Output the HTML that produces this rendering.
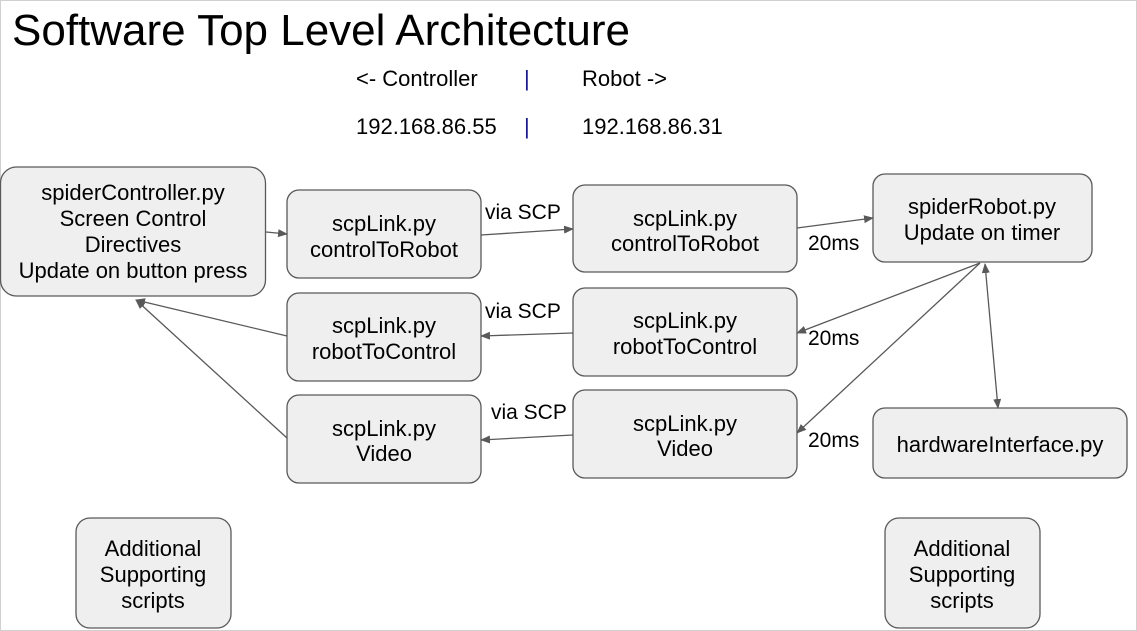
<!DOCTYPE html>
<html><head><meta charset="utf-8"><style>
html,body{margin:0;padding:0;background:#fff}
svg{display:block}
text{font-family:"Liberation Sans",Arial,sans-serif;fill:#000}
</style></head><body>
<svg width="1137" height="631" viewBox="0 0 1137 631" xmlns="http://www.w3.org/2000/svg">
<defs><marker id="a" markerWidth="10" markerHeight="10" refX="9" refY="5" orient="auto" markerUnits="userSpaceOnUse"><path d="M0,1 L10,5 L0,9 z" fill="#595959"/></marker>
<marker id="b" markerWidth="10" markerHeight="10" refX="1" refY="5" orient="auto" markerUnits="userSpaceOnUse"><path d="M10,1 L0,5 L10,9 z" fill="#595959"/></marker></defs>
<rect x="0.5" y="0.5" width="1136" height="630" fill="#fff" stroke="#d0d0d0"/>
<text x="12" y="45" font-size="44">Software Top Level Architecture</text>
<g font-size="22">
<text x="356" y="86">&lt;- Controller</text><text x="524" y="86" style="fill:#1a1a8c">|</text><text x="582" y="86">Robot -&gt;</text>
<text x="356" y="134">192.168.86.55</text><text x="524" y="134" style="fill:#1a1a8c">|</text><text x="582" y="134">192.168.86.31</text>
</g>
<g fill="#efefef" stroke="#595959" stroke-width="1.3">
<rect x="0.5" y="167" width="265" height="129" rx="16"/>
<rect x="287" y="190" width="194" height="88" rx="12"/>
<rect x="573" y="185" width="224" height="87" rx="12"/>
<rect x="873" y="174" width="219" height="88" rx="12"/>
<rect x="287" y="293" width="194" height="88" rx="12"/>
<rect x="573" y="288" width="224" height="88" rx="12"/>
<rect x="287" y="395" width="194" height="88" rx="12"/>
<rect x="573" y="390" width="224" height="88" rx="12"/>
<rect x="873" y="408" width="254" height="70" rx="12"/>
<rect x="76" y="518" width="155" height="110" rx="14"/>
<rect x="885" y="518" width="155" height="110" rx="14"/>
</g>
<g font-size="22" text-anchor="middle">
<text x="133" y="200">spiderController.py</text><text x="133" y="226">Screen Control</text><text x="133" y="252">Directives</text><text x="133" y="278">Update on button press</text>
<text x="384" y="231">scpLink.py</text><text x="384" y="257">controlToRobot</text>
<text x="685" y="226">scpLink.py</text><text x="685" y="251">controlToRobot</text>
<text x="982" y="214">spiderRobot.py</text><text x="982" y="240">Update on timer</text>
<text x="384" y="333">scpLink.py</text><text x="384" y="359">robotToControl</text>
<text x="685" y="328">scpLink.py</text><text x="685" y="354">robotToControl</text>
<text x="384" y="436">scpLink.py</text><text x="384" y="461">Video</text>
<text x="685" y="431">scpLink.py</text><text x="685" y="456">Video</text>
<text x="1000" y="452">hardwareInterface.py</text>
<text x="153" y="556">Additional</text><text x="153" y="582">Supporting</text><text x="153" y="608">scripts</text>
<text x="962" y="556">Additional</text><text x="962" y="582">Supporting</text><text x="962" y="608">scripts</text>
</g>
<g font-size="21">
<text x="485" y="219">via SCP</text><text x="808" y="250">20ms</text>
<text x="485" y="318">via SCP</text><text x="808" y="345">20ms</text>
<text x="491" y="419">via SCP</text><text x="808" y="447">20ms</text>
</g>
<g stroke="#595959" stroke-width="1.3" fill="none">
<line x1="266" y1="232" x2="287" y2="234" marker-end="url(#a)"/>
<line x1="481" y1="235" x2="573" y2="229" marker-end="url(#a)"/>
<line x1="797" y1="228" x2="873" y2="218" marker-end="url(#a)"/>
<line x1="573" y1="333" x2="481" y2="336" marker-end="url(#a)"/>
<line x1="980" y1="263" x2="797" y2="333" marker-end="url(#a)"/>
<line x1="980" y1="263" x2="797" y2="433" marker-end="url(#a)"/>
<line x1="985" y1="264" x2="998" y2="408" marker-start="url(#b)" marker-end="url(#a)"/>
<line x1="573" y1="435" x2="481" y2="440" marker-end="url(#a)"/>
<line x1="287" y1="336" x2="136" y2="300" marker-end="url(#a)"/>
<line x1="287" y1="438" x2="136" y2="300" marker-end="url(#a)"/>
</g>
</svg>
</body></html>
